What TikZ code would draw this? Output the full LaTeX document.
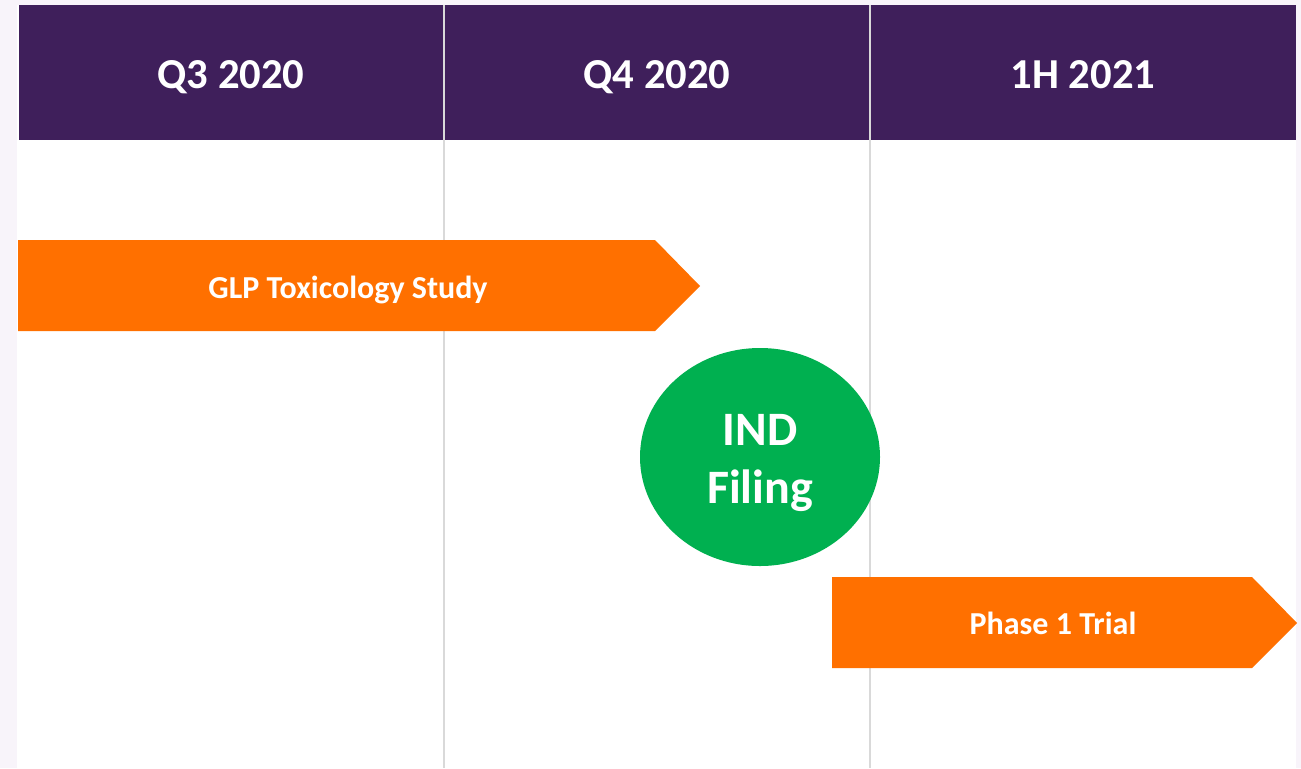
\documentclass[tikz,border=0pt]{standalone}
\usepackage{fontspec}
\setmainfont{Carlito}

\definecolor{hdrpurple}{RGB}{63,31,91}
\definecolor{barorange}{RGB}{255,112,0}
\definecolor{milegreen}{RGB}{0,176,80}
\definecolor{pagetint}{RGB}{248,244,250}
\definecolor{gridgray}{RGB}{217,217,217}

\begin{document}
\begin{tikzpicture}[x=0.75pt,y=0.75pt,yscale=-1,xscale=1]
\tikzset{
  hdrtext/.style={text=white,anchor=base,font=\bfseries\fontsize{32}{38}\selectfont},
  bartext/.style={text=white,anchor=base,font=\bfseries\fontsize{24}{28}\selectfont},
}
%frame, diagram is 1301 x 768
\fill [pagetint] (0,0) rectangle (1301,768);
\useasboundingbox (0,0) rectangle (1301,768);
\fill [white] (17,5) rectangle (1296,768);

%Header band
\fill [hdrpurple] (19,5) rectangle (1296,140);

%Column dividers
\draw [gridgray,line width=1.8] (444,5) -- (444,768);
\draw [gridgray,line width=1.8] (870,5) -- (870,768);

% Text Node
\node [hdrtext] (q3) at (231,88) {Q3 2020};
% Text Node
\node [hdrtext] (q4) at (657,88) {Q4 2020};
% Text Node
\node [hdrtext] (h1) at (1083,88) {1H 2021};

%Shape: Pentagon arrow
\fill [barorange] (18,240) -- (655,240) -- (700,286) -- (655,331) -- (18,331) -- cycle;
% Text Node
\node [bartext] (glp) at (348,298) {GLP Toxicology Study};

%Shape: Ellipse
\fill [milegreen] (760,457) ellipse [x radius=120,y radius=109];
% Text Node
\node [text=white,align=center,font=\bfseries\fontsize{36}{43}\selectfont] (ind) at (760,463) {IND\\Filing};

%Shape: Pentagon arrow
\fill [barorange] (832,577) -- (1252,577) -- (1297,623) -- (1252,668) -- (832,668) -- cycle;
% Text Node
\node [bartext] (ph1) at (1053,634) {Phase 1 Trial};

\end{tikzpicture}
\end{document}
